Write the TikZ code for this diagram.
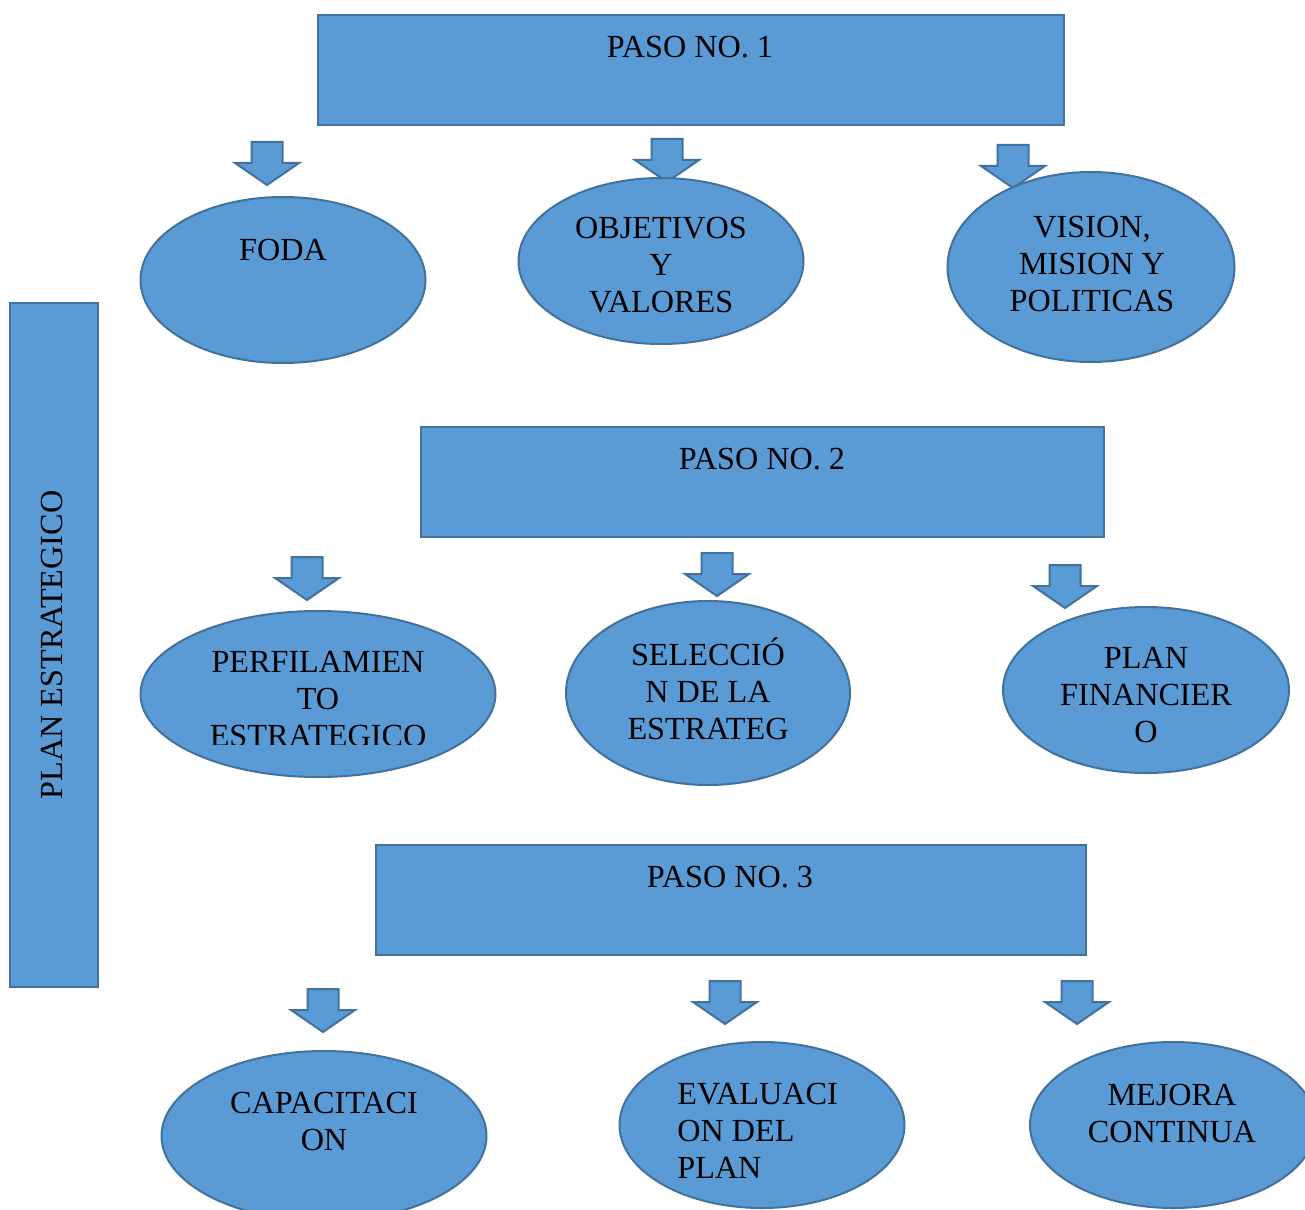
\documentclass[tikz,border=0pt]{standalone}
\usepackage{fontspec}
\setmainfont{Liberation Serif}
\usetikzlibrary{shapes.geometric}

\definecolor{boxblue}{HTML}{5B9BD5}
\definecolor{boxline}{HTML}{41719C}

\tikzset{
	blockarrow/.pic={
		\draw[shapebox] (-15.5,0) -- (15.5,0) -- (15.5,21) -- (32,21) -- (0,43) -- (-32,21) -- (-15.5,21) -- cycle;
	}
}

\begin{document}
\begin{tikzpicture}[x=0.5pt,y=-0.5pt,
	shapebox/.style={fill=boxblue,draw=boxline,line width=1pt},
	pasobox/.style={shapebox,rectangle,inner sep=0pt},
	oval/.style={shapebox,ellipse,inner sep=0pt},
	txt/.style={font=\fontsize{16.1}{18.5}\selectfont,align=center,anchor=base,inner sep=0pt}]

	\useasboundingbox (0,0) rectangle (1305,1209);
	\clip (0,0) rectangle (1305,1209);

	% lado izquierdo
	\node[pasobox,minimum width=44pt,minimum height=342pt] (plan) at (54,645) {};
	\node[txt,rotate=90,anchor=center] (plan-t) at (52,645) {PLAN ESTRATEGICO};

	% paso 1
	\node[pasobox,minimum width=373pt,minimum height=55pt] (paso1) at (691,70) {};
	\node[txt] (paso1-t) at (690,57.5) {PASO NO. 1};

	\pic (a11) at (267,142) {blockarrow};
	\pic (a12) at (667,139) {blockarrow};
	\pic (a13) at (1013,145) {blockarrow};

	\node[oval,minimum width=142.5pt,minimum height=83pt] (foda) at (283,280) {};
	\node[oval,minimum width=142.5pt,minimum height=83pt] (obj) at (661,261) {};
	\node[oval,minimum width=143.5pt,minimum height=95pt] (vision) at (1091,267) {};

	\node[txt] (foda-t) at (283,260.5) {FODA};
	\node[txt] (obj-t) at (661,312.5) {OBJETIVOS\\Y\\VALORES};
	\node[txt] (vision-t) at (1092,311) {VISION,\\MISION Y\\POLITICAS};

	% paso 2
	\node[pasobox,minimum width=341.5pt,minimum height=55pt] (paso2) at (762.5,482) {};
	\node[txt] (paso2-t) at (762,469.5) {PASO NO. 2};

	\pic (a21) at (307,557) {blockarrow};
	\pic (a22) at (717,553) {blockarrow};
	\pic (a23) at (1065,565) {blockarrow};

	\node[oval,minimum width=177.5pt,minimum height=83pt] (perf) at (318,694) {};
	\node[oval,minimum width=142pt,minimum height=92pt] (selec) at (708,693) {};
	\node[oval,minimum width=143pt,minimum height=83pt] (finan) at (1146,690) {};

	\begin{scope}
		\clip (140,600) rectangle (495,744);
		\node[txt] (perf-t) at (318,746.5) {PERFILAMIEN\\TO\\ESTRATEGICO};
	\end{scope}
	\node[txt] (selec-t) at (708,739.5) {SELECCIÓ\\N DE LA\\ESTRATEG};
	\node[txt] (finan-t) at (1146,742.5) {PLAN\\FINANCIER\\O};

	% paso 3
	\node[pasobox,minimum width=355pt,minimum height=55pt] (paso3) at (731,900) {};
	\node[txt] (paso3-t) at (730,887.5) {PASO NO. 3};

	\pic (a31) at (323,989) {blockarrow};
	\pic (a32) at (725,981) {blockarrow};
	\pic (a33) at (1077,981) {blockarrow};

	\node[oval,minimum width=162.5pt,minimum height=85pt] (capac) at (324,1136) {};
	\node[oval,minimum width=142.5pt,minimum height=83pt] (eval) at (762,1125) {};
	\node[oval,minimum width=143pt,minimum height=83pt] (mejora) at (1173,1125) {};

	\node[txt] (capac-t) at (324,1150.5) {CAPACITACI\\ON};
	\node[txt,align=left,anchor=base west] (eval-t) at (677,1178.5) {EVALUACI\\ON DEL\\PLAN};
	\node[txt] (mejora-t) at (1172,1142.5) {MEJORA\\CONTINUA};

\end{tikzpicture}
\end{document}
